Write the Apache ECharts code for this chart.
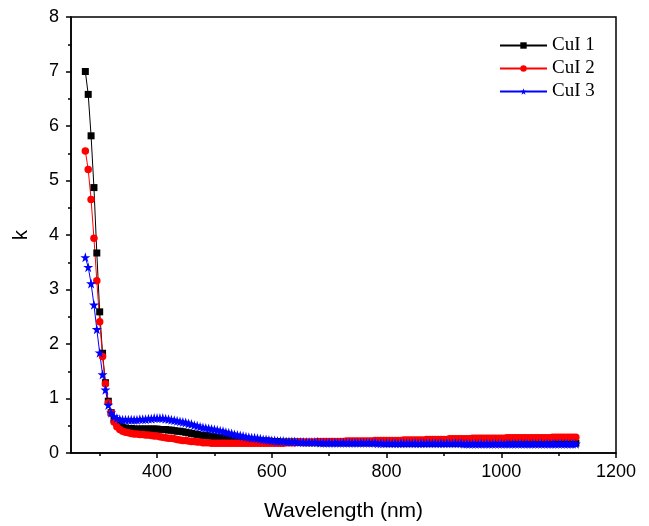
<!DOCTYPE html>
<html>
<head>
<meta charset="utf-8">
<script src="https://cdn.jsdelivr.net/npm/echarts@6/dist/echarts.min.js"></script>
<style>html,body{margin:0;padding:0;background:#fff;}#c{width:649px;height:526px;}</style>
</head>
<body>
<div id="c"></div>
<script>
var seriesNames = ['CuI 1', 'CuI 2', 'CuI 3'];
var xMajorTicks = [400, 600, 800, 1000, 1200];
var xMinorTicks = [300, 500, 700, 900, 1100];
var wavelength = [
275,280,285,290,295,300,305,310,315,320,
325,330,335,340,345,350,355,360,365,370,
375,380,385,390,395,400,405,410,415,420,
425,430,435,440,445,450,455,460,465,470,
475,480,485,490,495,500,505,510,515,520,
525,530,535,540,545,550,555,560,565,570,
575,580,585,590,595,600,605,610,615,620,
625,630,635,640,645,650,655,660,665,670,
675,680,685,690,695,700,705,710,715,720,
725,730,735,740,745,750,755,760,765,770,
775,780,785,790,795,800,805,810,815,820,
825,830,835,840,845,850,855,860,865,870,
875,880,885,890,895,900,905,910,915,920,
925,930,935,940,945,950,955,960,965,970,
975,980,985,990,995,1000,1005,1010,1015,1020,
1025,1030,1035,1040,1045,1050,1055,1060,1065,1070,
1075,1080,1085,1090,1095,1100,1105,1110,1115,1120,
1125,1130];
var kCuI1 = [
7.00,6.58,5.82,4.87,3.67,2.59,1.83,1.29,0.95,0.74,
0.62,0.55,0.50,0.47,0.46,0.45,0.45,0.44,0.44,0.44,
0.44,0.44,0.44,0.44,0.44,0.44,0.43,0.43,0.43,0.42,
0.42,0.41,0.40,0.40,0.39,0.38,0.37,0.36,0.35,0.34,
0.33,0.32,0.32,0.31,0.30,0.29,0.29,0.28,0.28,0.27,
0.27,0.26,0.26,0.25,0.25,0.24,0.24,0.24,0.23,0.23,
0.23,0.23,0.22,0.22,0.22,0.21,0.21,0.21,0.20,0.20,
0.20,0.20,0.20,0.20,0.20,0.20,0.19,0.19,0.19,0.19,
0.19,0.19,0.19,0.19,0.19,0.19,0.19,0.19,0.19,0.19,
0.19,0.19,0.19,0.19,0.19,0.19,0.19,0.19,0.19,0.19,
0.19,0.19,0.19,0.19,0.19,0.18,0.18,0.18,0.18,0.18,
0.18,0.18,0.18,0.18,0.18,0.18,0.18,0.18,0.18,0.18,
0.18,0.18,0.18,0.18,0.18,0.18,0.18,0.18,0.18,0.18,
0.18,0.18,0.18,0.18,0.18,0.18,0.18,0.18,0.18,0.18,
0.18,0.18,0.18,0.18,0.18,0.18,0.18,0.18,0.18,0.18,
0.18,0.18,0.18,0.18,0.18,0.18,0.18,0.18,0.18,0.18,
0.18,0.18,0.18,0.18,0.18,0.18,0.18,0.18,0.18,0.18,
0.18,0.18];
var kCuI2 = [
5.54,5.20,4.65,3.94,3.16,2.41,1.77,1.27,0.92,0.73,
0.57,0.48,0.43,0.40,0.38,0.37,0.36,0.35,0.35,0.34,
0.34,0.33,0.33,0.32,0.31,0.31,0.30,0.29,0.28,0.27,
0.27,0.26,0.25,0.24,0.23,0.23,0.22,0.21,0.21,0.20,
0.20,0.19,0.19,0.19,0.18,0.18,0.18,0.18,0.18,0.18,
0.18,0.18,0.18,0.18,0.18,0.18,0.18,0.18,0.18,0.18,
0.18,0.18,0.18,0.18,0.18,0.18,0.18,0.18,0.18,0.18,
0.19,0.19,0.19,0.19,0.20,0.20,0.20,0.20,0.20,0.20,
0.20,0.21,0.21,0.21,0.21,0.21,0.21,0.21,0.21,0.21,
0.21,0.22,0.22,0.22,0.22,0.22,0.22,0.22,0.22,0.22,
0.22,0.23,0.23,0.23,0.23,0.23,0.23,0.23,0.23,0.23,
0.23,0.24,0.24,0.24,0.24,0.24,0.24,0.24,0.24,0.25,
0.25,0.25,0.25,0.25,0.25,0.25,0.25,0.26,0.26,0.26,
0.26,0.26,0.26,0.26,0.26,0.27,0.27,0.27,0.27,0.27,
0.27,0.27,0.27,0.27,0.27,0.27,0.27,0.28,0.28,0.28,
0.28,0.28,0.28,0.28,0.28,0.28,0.28,0.28,0.28,0.28,
0.28,0.28,0.28,0.29,0.29,0.29,0.29,0.29,0.29,0.29,
0.29,0.29];
var kCuI3 = [
3.59,3.41,3.11,2.72,2.27,1.84,1.44,1.16,0.88,0.74,
0.67,0.64,0.62,0.61,0.61,0.61,0.61,0.61,0.61,0.62,
0.62,0.62,0.63,0.63,0.64,0.64,0.64,0.64,0.63,0.62,
0.61,0.60,0.59,0.58,0.57,0.56,0.54,0.53,0.51,0.50,
0.48,0.47,0.46,0.45,0.44,0.43,0.42,0.41,0.40,0.38,
0.37,0.36,0.34,0.33,0.32,0.31,0.30,0.29,0.28,0.28,
0.27,0.26,0.25,0.25,0.24,0.23,0.23,0.22,0.22,0.22,
0.21,0.21,0.21,0.21,0.20,0.20,0.20,0.20,0.20,0.20,
0.20,0.20,0.19,0.19,0.19,0.19,0.19,0.19,0.19,0.19,
0.19,0.19,0.19,0.19,0.19,0.19,0.19,0.19,0.19,0.19,
0.19,0.19,0.18,0.18,0.18,0.18,0.18,0.18,0.18,0.18,
0.18,0.18,0.18,0.18,0.18,0.18,0.18,0.18,0.18,0.18,
0.18,0.18,0.18,0.18,0.18,0.18,0.18,0.18,0.18,0.18,
0.18,0.18,0.17,0.17,0.17,0.17,0.17,0.17,0.17,0.17,
0.17,0.17,0.17,0.17,0.17,0.17,0.17,0.17,0.17,0.17,
0.17,0.17,0.17,0.17,0.17,0.17,0.17,0.17,0.17,0.17,
0.17,0.17,0.17,0.17,0.17,0.17,0.17,0.17,0.17,0.17,
0.17,0.17];

function pairs(ys) { return wavelength.map(function (x, i) { return [x, ys[i]]; }); }

var starPath = 'path://M50,0 L61.8,35.4 L100,35.4 L69.1,57.3 L80.9,93.3 L50,71.4 L19.1,93.3 L30.9,57.3 L0,35.4 L38.2,35.4 Z';
var sans = 'Liberation Sans, Arial, sans-serif';

var chart = echarts.init(document.getElementById('c'), null, { renderer: 'canvas' });
chart.setOption({
  animation: false,
  backgroundColor: '#ffffff',
  grid: { left: 71, right: 33, top: 17, bottom: 73, outerBoundsMode: 'none', containLabel: false, show: true, borderColor: '#000', borderWidth: 1.5, backgroundColor: 'transparent' },
  legend: {
    orient: 'vertical', left: 494, top: 31, itemWidth: 47, itemHeight: 8, itemGap: 4,
    textStyle: { fontFamily: 'Liberation Serif, Times New Roman, serif', fontSize: 19, color: '#000' },
    data: seriesNames
  },
  xAxis: [{
    type: 'value', min: 250, max: 1200,
    name: 'Wavelength (nm)', nameLocation: 'middle', nameGap: 48,
    nameTextStyle: { fontFamily: sans, fontSize: 21, color: '#000' },
    axisLine: { show: true, lineStyle: { color: '#000', width: 1.5 } },
    axisTick: { show: true, length: 5, customValues: xMajorTicks, lineStyle: { color: '#000', width: 1.5 } },
    axisLabel: { customValues: xMajorTicks, formatter: function (v) { return String(v); }, fontFamily: sans, fontSize: 18, color: '#000', margin: 10 },
    splitLine: { show: false }
  }, {
    type: 'value', min: 250, max: 1200, position: 'bottom',
    axisLine: { show: false },
    axisTick: { show: true, length: 3, customValues: xMinorTicks, lineStyle: { color: '#000', width: 1.5 } },
    axisLabel: { show: false },
    splitLine: { show: false }
  }],
  yAxis: {
    type: 'value', min: 0, max: 8, interval: 1,
    name: 'k', nameLocation: 'middle', nameGap: 40,
    nameTextStyle: { fontFamily: sans, fontSize: 20, color: '#000' },
    axisLine: { show: true, lineStyle: { color: '#000', width: 1.5 } },
    axisTick: { show: true, length: 5, lineStyle: { color: '#000', width: 1.5 } },
    minorTick: { show: true, splitNumber: 2, length: 3, lineStyle: { color: '#000', width: 1.5 } },
    axisLabel: { fontFamily: sans, fontSize: 18, color: '#000', margin: 12 },
    splitLine: { show: false }
  },
  series: [{
    name: seriesNames[0], type: 'line', data: pairs(kCuI1), symbol: 'rect', symbolSize: 7, showAllSymbol: true,
    itemStyle: { color: '#000000' }, lineStyle: { color: '#000000', width: 1 }
  }, {
    name: seriesNames[1], type: 'line', data: pairs(kCuI2), symbol: 'circle', symbolSize: 7.5, showAllSymbol: true,
    itemStyle: { color: '#ff0000' }, lineStyle: { color: '#ff0000', width: 1 }
  }, {
    name: seriesNames[2], type: 'line', data: pairs(kCuI3), symbol: starPath, symbolSize: 10, showAllSymbol: true,
    itemStyle: { color: '#0000ff' }, lineStyle: { color: '#0000ff', width: 1 }
  }]
});
</script>
</body>
</html>
